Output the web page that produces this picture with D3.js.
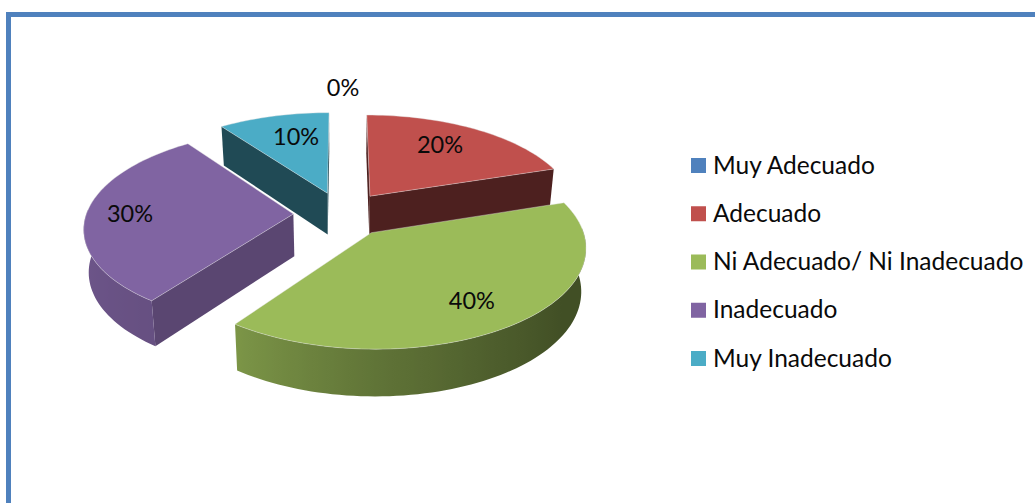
<!DOCTYPE html>
<html>
<head>
<meta charset="utf-8">
<script src="https://cdn.jsdelivr.net/npm/d3@7"></script>
<style>
  html, body { margin: 0; padding: 0; background: #fff; overflow: hidden; }
  text { font-family: Lato, "Open Sans", sans-serif; fill: #0a0a0a; }
</style>
</head>
<body>
<div id="chart"></div>
<script>
// Chart data
const categories = ["Muy Adecuado", "Adecuado", "Ni Adecuado/ Ni Inadecuado", "Inadecuado", "Muy Inadecuado"];
const values = [0, 20, 40, 30, 10];
const colors = ["#4f81bd", "#c0504d", "#9bbb59", "#8064a2", "#4bacc6"];

const width = 1035, height = 503;

// fake 3d camera for the exploded pie
const view = { cx: 342, cy: 214, rx: 207, ry: 96, tilt: 0.13, shrink: 0.02, depth: 43, explode: 0.235 };
const labelRadius = [1.35, 0.754, 0.764, 0.789, 0.706];
const labelNudge = [1, -11, -6, 0, 8];

const svg = d3.select("#chart").append("svg")
  .attr("width", width)
  .attr("height", height)
  .attr("viewBox", [0, 0, width, height].join(" "))
  .style("display", "block");

// frame, only the top and left edges fall inside the picture
svg.append("rect")
  .attr("x", 8.5).attr("y", 14.5)
  .attr("width", width + 40).attr("height", height + 40)
  .attr("fill", "none")
  .attr("stroke", "#4f81bd")
  .attr("stroke-width", 5);

const defs = svg.append("defs");
const color = d3.scaleOrdinal().domain(categories).range(colors);

const pie = d3.pie().sort(null).value(d => d.value);
const slices = pie(categories.map((name, i) => ({ name, value: values[i], index: i })));

function project(X, Y, Z) {
  const w = (1 + view.tilt * Y) * (1 + view.shrink * Z);
  return [view.cx + view.rx * X / w, view.cy + (-view.ry * Y + view.depth * Z) / w];
}

// point of a slice at radius r and angle a, pushed out along its bisector
function slicePoint(s, r, a, Z) {
  const mid = (s.startAngle + s.endAngle) / 2;
  const X = view.explode * Math.sin(mid) + r * Math.sin(a);
  const Y = view.explode * Math.cos(mid) + r * Math.cos(a);
  return project(X, Y, Z);
}

function rimAngles(s) {
  const n = Math.max(2, Math.round((s.endAngle - s.startAngle) / 0.03));
  return d3.range(n + 1).map(i => s.startAngle + (s.endAngle - s.startAngle) * i / n);
}

const line = d3.line().curve(d3.curveLinearClosed);
const deg = a => a * 180 / Math.PI;
const shade = (c, f) => { const k = d3.rgb(c); return d3.rgb(k.r * f, k.g * f, k.b * f).formatHex(); };

// light falling on the curved wall and the flat cut faces, by angle
const wallShade = d3.scaleLinear().domain([72, 125, 150, 180, 216, 270, 324]).range([0.42, 0.42, 0.5, 0.62, 0.8, 0.87, 0.87]);
const faceShade = d3.scaleLinear().domain([0, 72, 216, 324, 360]).range([0.4, 0.4, 0.7, 0.43, 0.43]);

// horizontal gradient following the rim of one slice
function wallGradient(s, c, angles) {
  const rim = angles.map(a => ({ x: slicePoint(s, 1, a, 0)[0], f: wallShade(deg(a)) }));
  const x = d3.scaleLinear().domain(d3.extent(rim, d => d.x)).range([0, 100]);
  const id = "wall" + s.data.index;
  const grad = defs.append("linearGradient")
    .attr("id", id)
    .attr("gradientUnits", "userSpaceOnUse")
    .attr("x1", x.domain()[0]).attr("x2", x.domain()[1])
    .attr("y1", 0).attr("y2", 0);
  grad.selectAll("stop")
    .data(rim.slice().sort((a, b) => a.x - b.x))
    .enter().append("stop")
    .attr("offset", d => x(d.x) + "%")
    .attr("stop-color", d => shade(c, d.f));
  return "url(#" + id + ")";
}

// back to front
const drawOrder = [4, 1, 3, 2];
const pieG = svg.append("g");

drawOrder.forEach(i => {
  const s = slices[i];
  const c = color(s.data.name);
  const g = pieG.append("g");

  // flat cut faces, only where they look at the camera
  [s.startAngle, s.endAngle].forEach(a => {
    const face = [slicePoint(s, 0, a, 0), slicePoint(s, 1, a, 0), slicePoint(s, 1, a, 1), slicePoint(s, 0, a, 1)];
    if (d3.polygonArea(face) * (a === s.startAngle ? -1 : 1) > 0) return;
    g.append("path")
      .attr("d", line(face))
      .attr("fill", shade(c, faceShade(deg(a))));
  });

  // curved wall, the part that turns towards the camera
  const wallAngles = rimAngles(s).filter(a => Math.cos(a) < 0.05);
  if (wallAngles.length > 1) {
    const wallTop = wallAngles.map(a => slicePoint(s, 1, a, 0));
    const wallBottom = wallAngles.map(a => slicePoint(s, 1, a, 1)).reverse();
    g.append("path")
      .attr("d", line(wallTop.concat(wallBottom)))
      .attr("fill", wallGradient(s, c, wallAngles));
  }

  // top face
  g.append("path")
    .attr("d", line([slicePoint(s, 0, s.startAngle, 0)].concat(rimAngles(s).map(a => slicePoint(s, 1, a, 0)))))
    .attr("fill", c)
    .attr("stroke", "#e4e4e4")
    .attr("stroke-opacity", 0.5)
    .attr("stroke-width", 0.8);
});

// data labels
svg.append("g").selectAll("text")
  .data(slices)
  .enter().append("text")
  .attr("x", (d, i) => slicePoint(d, labelRadius[i], (d.startAngle + d.endAngle) / 2, 0)[0] + labelNudge[i])
  .attr("y", (d, i) => slicePoint(d, labelRadius[i], (d.startAngle + d.endAngle) / 2, 0)[1])
  .attr("dy", "0.36em")
  .attr("text-anchor", "middle")
  .attr("font-size", 23.5)
  .text(d => d.data.value + "%");

// legend
const legendY = d3.scalePoint().domain(categories).range([165.5, 358.5]);
const legend = svg.append("g").selectAll("g")
  .data(categories)
  .enter().append("g")
  .attr("transform", d => "translate(691," + legendY(d) + ")");

legend.append("rect")
  .attr("y", -7.5)
  .attr("width", 15)
  .attr("height", 15)
  .attr("fill", d => color(d));

legend.append("text")
  .attr("x", 22)
  .attr("y", 8)
  .attr("font-size", 24.5)
  .text(d => d);
</script>
</body>
</html>
